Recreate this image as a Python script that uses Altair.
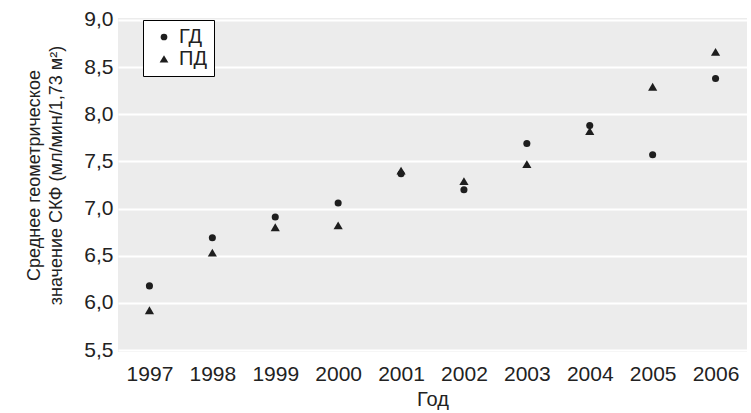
import altair as alt
import pandas as pd

# Mean GFR by year for the two dialysis groups
years = ["1997", "1998", "1999", "2000", "2001", "2002", "2003", "2004", "2005", "2006"]
gd_values = [6.18, 6.69, 6.91, 7.06, 7.37, 7.20, 7.69, 7.88, 7.57, 8.38]
pd_values = [5.92, 6.53, 6.80, 6.82, 7.40, 7.29, 7.47, 7.82, 8.29, 8.66]
groups = ["ГД", "ПД"]
y_ticks = [5.5, 6.0, 6.5, 7.0, 7.5, 8.0, 8.5, 9.0]

df = pd.DataFrame(
    {"Год": years * 2,
     "СКФ": gd_values + pd_values,
     "Группа": [groups[0]] * len(years) + [groups[1]] * len(years)}
)

FONT = "Liberation Sans"
INK = "#1e1e1e"
# a slightly enlarged upward triangle so it reads at the same weight as the dots
TRIANGLE = "M0,-1.15L1.3,1.05L-1.3,1.05Z"

chart = (
    alt.Chart(df)
    .mark_point(filled=True, opacity=1, color=INK, size=50)
    .encode(
        x=alt.X(
            "Год:O",
            sort=years,
            scale=alt.Scale(type="point", padding=0.5),
            axis=alt.Axis(
                title="Год",
                labelAngle=0,
                labelFontSize=21,
                labelPadding=11,
                titleFontSize=20,
                titlePadding=5,
                grid=False,
                ticks=False,
                domain=False,
            ),
        ),
        y=alt.Y(
            "СКФ:Q",
            scale=alt.Scale(domain=[5.479, 9.021], nice=False, zero=False),
            axis=alt.Axis(
                title=["Среднее геометрическое", "значение СКФ (мл/мин/1,73 м²)"],
                values=y_ticks,
                labelExpr="replace(format(datum.value, '.1f'), '.', ',')",
                labelFontSize=21,
                labelPadding=5,
                titleFontSize=18,
                titleLineHeight=22,
                titleX=-75,
                titleY=157,
                grid=True,
                gridColor="white",
                gridWidth=2,
                ticks=False,
                domain=False,
            ),
        ),
        shape=alt.Shape(
            "Группа:N",
            scale=alt.Scale(domain=groups, range=["circle", TRIANGLE]),
            legend=alt.Legend(
                title=None,
                orient="none",
                legendX=25,
                legendY=2,
                padding=7,
                strokeColor="black",
                fillColor="white",
                labelFontSize=20,
                labelOffset=5,
                symbolOffset=4,
                rowPadding=2,
                symbolFillColor=INK,
                symbolStrokeColor=INK,
                symbolSize=45,
            ),
        ),
    )
    .properties(
        width=629,
        height=334,
        padding={"left": 118, "top": 18, "right": 4, "bottom": 61},
        autosize=alt.AutoSizeParams(type="none"),
    )
    .configure(font=FONT)
    .configure_view(fill="#ececec", stroke=None)
    .configure_axis(labelColor="#222222", titleColor="#222222", labelFont=FONT, titleFont=FONT, titleFontWeight="normal")
    .configure_legend(labelColor="#222222", labelFont=FONT)
)

chart.save("out.html", embed_options={"renderer": "svg", "actions": False})
